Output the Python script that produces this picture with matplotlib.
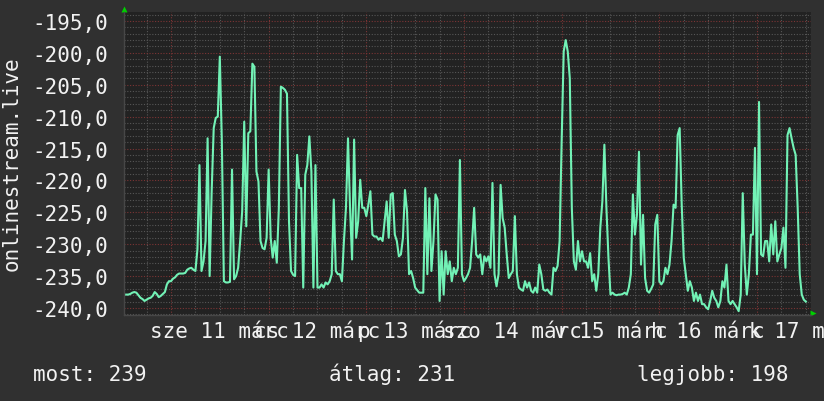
"""onlinestream.live rank graph (rrdtool look) recreated with matplotlib."""
import numpy as np
import matplotlib
matplotlib.use("Agg")
import matplotlib.pyplot as plt
from matplotlib.ticker import MultipleLocator, FuncFormatter, NullFormatter

plt.rcParams["font.family"] = ["DejaVu Sans Mono", "DejaVu Sans"]

# half-hourly values, per day (Mar 10 starts at 12:30, Mar 17 ends at 12:00)
mar10 = [-237.9, -237.9, -237.9, -237.8, -237.6, -237.5, -237.6, -238.0, -238.4, -238.6,
         -238.9, -238.7, -238.5, -238.4, -238.1, -237.5, -237.8, -238.3, -238.1, -237.8,
         -237.5, -236.3, -235.8]
mar11 = [-235.8, -235.4, -235.2, -234.8, -234.6, -234.6, -234.6, -234.5, -234.0, -233.8,
         -233.7, -234.0, -234.2, -230.8, -217.6, -234.2, -232.7, -229.5, -213.4, -235.0,
         -221.7, -211.8, -210.2, -210.0, -200.6, -213.9, -235.8, -236.0, -236.0, -235.9,
         -218.3, -235.5, -235.0, -233.7, -229.5, -224.8, -210.8, -227.2, -212.6, -212.3,
         -201.7, -202.2, -218.6, -220.2, -229.5, -230.6, -230.8, -229.0]
mar12 = [-218.3, -229.0, -232.1, -229.5, -232.9, -224.4, -205.3, -205.5, -205.8, -206.4,
         -226.4, -234.2, -234.8, -235.0, -216.0, -221.2, -221.2, -236.8, -219.1, -217.6,
         -213.1, -218.6, -236.8, -217.6, -236.8, -236.8, -236.3, -236.8, -236.0, -236.3,
         -235.8, -234.7, -223.0, -234.2, -234.7, -234.7, -235.8, -229.5, -224.3, -213.4,
         -224.3, -232.4, -213.6, -229.0, -226.4, -219.9, -224.3, -224.3]
mar13 = [-225.6, -223.8, -221.7, -228.5, -228.8, -228.8, -229.3, -229.0, -229.5, -226.4,
         -223.3, -229.0, -222.2, -222.0, -228.5, -229.5, -231.9, -231.6, -229.0, -221.5,
         -224.8, -234.7, -234.2, -235.3, -236.8, -237.2, -237.6, -237.6, -237.6, -221.2,
         -234.7, -222.8, -234.2, -229.5, -222.2, -223.0, -238.9, -231.1, -237.9, -231.1,
         -234.7, -232.7, -235.8, -233.7, -234.7, -233.7, -216.8, -234.7]
mar14 = [-235.8, -235.3, -234.7, -233.7, -229.5, -224.3, -231.6, -232.1, -231.6, -234.7,
         -231.9, -232.7, -231.9, -233.7, -220.4, -234.7, -236.6, -234.7, -220.7, -225.9,
         -227.4, -231.6, -235.3, -234.7, -234.2, -225.6, -234.7, -236.8, -237.1, -237.3,
         -235.8, -236.8, -236.0, -237.3, -237.6, -236.8, -237.6, -233.2, -234.7, -237.1,
         -237.3, -237.1, -237.6, -237.9, -233.7, -234.2, -233.4, -229.5]
mar15 = [-213.9, -199.8, -198.0, -199.8, -204.0, -224.3, -232.7, -234.0, -229.5, -232.7,
         -231.1, -232.7, -232.7, -233.7, -231.4, -235.8, -234.7, -237.3, -234.7, -227.4,
         -223.3, -214.4, -224.3, -232.1, -237.9, -237.6, -237.9, -238.0, -237.9, -237.9,
         -237.8, -237.6, -237.9, -236.8, -234.7, -222.2, -228.5, -225.4, -215.5, -233.2,
         -225.4, -235.3, -237.3, -237.6, -237.0, -236.3, -226.9, -225.4]
mar16 = [-235.8, -236.3, -235.8, -233.7, -234.7, -233.2, -229.5, -223.8, -224.3, -212.9,
         -211.8, -223.8, -232.1, -234.7, -237.3, -235.8, -236.8, -238.9, -237.6, -238.9,
         -237.9, -239.4, -239.4, -239.9, -240.2, -238.9, -237.3, -238.4, -238.9, -239.9,
         -238.9, -235.8, -236.8, -233.2, -238.9, -239.4, -238.9, -239.4, -239.9, -240.5,
         -237.9, -222.0, -233.2, -237.9, -234.7, -228.5, -228.5, -214.9]
mar17 = [-234.7, -207.7, -231.6, -231.9, -229.5, -229.5, -232.7, -226.9, -231.6, -226.4,
         -232.7, -231.6, -230.6, -227.4, -233.7, -212.9, -211.8, -213.4, -214.9, -216.0,
         -224.3, -234.7, -237.9, -238.7, -239.0]

day_labels = ["sze 11 márc", "cs 12 márc", "p 13 márc", "szo 14 márc",
              "v 15 márc", "h 16 márc", "k 17 márc"]
summary = ["most: 239", "átlag: 231", "legjobb: 198"]

values = np.array(mar10 + mar11 + mar12 + mar13 + mar14 + mar15 + mar16 + mar17)
# time in days, 0 = Mar 11 00:00, first sample Mar 10 12:30
t = -23 / 48 + np.arange(len(values)) / 48

W, H = 824, 402
fig = plt.figure(figsize=(W / 100, H / 100), dpi=100, facecolor="#303030")
ax = fig.add_axes([124 / W, 1 - 316 / H, 687 / W, 303 / H])
ax.set_facecolor("#222222")

ax.plot(t, values, color="#72f2b6", lw=1.5)

ax.set_xlim(-0.481, 6.553)
ax.set_ylim(-241.1, -193.6)

ax.yaxis.set_major_locator(MultipleLocator(5))
ax.yaxis.set_minor_locator(MultipleLocator(1))
ax.yaxis.set_major_formatter(FuncFormatter(lambda v, p: f"{v:.1f}".replace(".", ",")))

ax.xaxis.set_major_locator(MultipleLocator(1))
ax.xaxis.set_major_formatter(NullFormatter())
ax.xaxis.set_minor_locator(MultipleLocator(0.25))


def noon_label(x, pos):
    d = x - 0.5
    i = int(round(d))
    if abs(d - i) < 1e-6 and 0 <= i < len(day_labels):
        return day_labels[i]
    return ""


ax.xaxis.set_minor_formatter(FuncFormatter(noon_label))

ax.tick_params(axis="both", which="both", length=0, labelsize=15, labelcolor="#f2f2f2")
ax.tick_params(axis="y", which="major", pad=11.5)
ax.tick_params(axis="x", which="minor", pad=15.8)
# same baseline for every day label (the "p" descender would shift one otherwise)
n_minor = len(ax.xaxis.get_minorticklocs())
for tick in ax.xaxis.get_minor_ticks(n_minor):
    tick.label1.set_verticalalignment("baseline")

dots = (0, (1, 1.5))
ax.set_axisbelow(True)
ax.grid(which="major", color="#7c3434", ls=dots, lw=0.8)
ax.grid(which="minor", color="#565656", ls=dots, lw=0.8)

for s in ("top", "right"):
    ax.spines[s].set_visible(False)
for s in ("left", "bottom"):
    ax.spines[s].set_color("#474747")
    ax.spines[s].set_linewidth(1)

# rrdtool style axis arrows
ax.plot([0], [1 + 3 / 303], marker="^", ms=5, color="#00d000", mec="none",
        transform=ax.transAxes, clip_on=False)
ax.plot([1 + 2 / 687], [2 / 303], marker=">", ms=5, color="#00d000", mec="none",
        transform=ax.transAxes, clip_on=False)

fig.text(12 / W, 1 - 164 / H, "onlinestream.live", rotation=90, ha="center",
         va="center", fontsize=15, color="#f2f2f2")

for x0, s in zip([33, 329, 637], summary):
    fig.text(x0 / W, 1 - 381 / H, s, ha="left", va="baseline", fontsize=15,
             color="#f2f2f2")

fig.savefig("out.png", dpi=100, facecolor=fig.get_facecolor())
